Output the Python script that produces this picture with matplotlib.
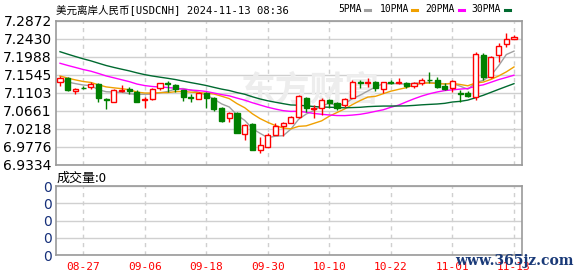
#!/usr/bin/env python3
"""USD/CNH offshore daily candles with 5/10/20/30 day moving averages."""
import matplotlib
matplotlib.use("Agg")
import matplotlib.pyplot as plt
import numpy as np
import pandas as pd
from matplotlib.lines import Line2D

OUT = "out.png"

# Daily OHLC, 2024-08-22 .. 2024-11-13 (60 trading days)
OPEN = [7.1375, 7.1466, 7.1158, 7.1227, 7.1237, 7.1318, 7.0949, 7.0887, 7.1158, 7.1202,
        7.1129, 7.0936, 7.0956, 7.1212, 7.1343, 7.1294, 7.1170, 7.0998, 7.0949, 7.1104,
        7.0966, 7.0719, 7.0473, 7.0596, 7.0098, 7.0325, 6.9691, 6.9772, 7.0061, 7.0290,
        7.0364, 7.0512, 7.0966, 7.0702, 7.0719, 7.0924, 7.0842, 7.0801, 7.0981, 7.1360,
        7.1343, 7.1360, 7.1188, 7.1367, 7.1350, 7.1336, 7.1269, 7.1350, 7.1425, 7.1417,
        7.1269, 7.1227, 7.1096, 7.1104, 7.0990, 7.2034, 7.1498, 7.2034, 7.2305, 7.2428]
HIGH = [7.1516, 7.1479, 7.1232, 7.1262, 7.1360, 7.1350, 7.0973, 7.1195, 7.1286, 7.1252,
        7.1170, 7.1005, 7.1212, 7.1350, 7.1400, 7.1311, 7.1183, 7.1064, 7.1114, 7.1129,
        7.0998, 7.0744, 7.0635, 7.0635, 7.0325, 7.0350, 7.0019, 7.0118, 7.0350, 7.0389,
        7.0529, 7.1047, 7.1005, 7.0801, 7.0966, 7.0949, 7.0867, 7.0981, 7.1417, 7.1417,
        7.1459, 7.1400, 7.1375, 7.1417, 7.1459, 7.1375, 7.1375, 7.1474, 7.1622, 7.1483,
        7.1336, 7.1417, 7.1170, 7.1153, 7.2100, 7.2075, 7.2009, 7.2322, 7.2569, 7.2527]
LOW = [7.1269, 7.1146, 7.1084, 7.1195, 7.1203, 7.0867, 7.0714, 7.0875, 7.1121, 7.1072,
       7.0875, 7.0734, 7.0924, 7.1170, 7.1129, 7.1114, 7.0899, 7.0882, 7.0941, 7.0719,
       7.0653, 7.0389, 7.0389, 7.0103, 6.9937, 6.9691, 6.9610, 6.9757, 7.0061, 7.0036,
       7.0350, 7.0473, 7.0635, 7.0473, 7.0554, 7.0719, 7.0677, 7.0759, 7.0966, 7.1212,
       7.1252, 7.1153, 7.1089, 7.1318, 7.1318, 7.1212, 7.1212, 7.1294, 7.1336, 7.1212,
       7.1170, 7.1129, 7.0882, 7.1005, 7.0924, 7.1417, 7.1459, 7.1868, 7.2238, 7.2421]
CLOSE = [7.1474, 7.1183, 7.1207, 7.1212, 7.1318, 7.0966, 7.0936, 7.1170, 7.1178, 7.1146,
         7.0882, 7.0949, 7.1188, 7.1336, 7.1318, 7.1188, 7.1005, 7.0981, 7.1089, 7.0966,
         7.0702, 7.0406, 7.0596, 7.0103, 7.0307, 6.9691, 6.9814, 7.0061, 7.0290, 7.0364,
         7.0497, 7.1022, 7.0719, 7.0719, 7.0924, 7.0842, 7.0719, 7.0949, 7.1360, 7.1343,
         7.1360, 7.1212, 7.1360, 7.1350, 7.1367, 7.1269, 7.1336, 7.1417, 7.1410, 7.1252,
         7.1203, 7.1385, 7.1079, 7.1030, 7.2051, 7.1498, 7.1992, 7.2263, 7.2421, 7.2470]
# closes before the window, backed out of where the MA lines start
PRE_CLOSE = [7.300, 7.295, 7.290, 7.282, 7.272, 7.265, 7.258, 7.248, 7.240, 7.235,
             7.225, 7.220, 7.222, 7.215, 7.210, 7.215, 7.210, 7.212, 7.208, 7.207,
             7.170, 7.165, 7.160, 7.156, 7.155, 7.145, 7.140, 7.138, 7.1396]

DATES = pd.bdate_range("2024-08-22", periods=len(CLOSE))
TICK_IDX = [3, 11, 19, 27, 35, 43, 51, 59]
Y_TICKS = [7.2872, 7.2430, 7.1988, 7.1545, 7.1103, 7.0661, 7.0218, 6.9776, 6.9334]
MA_WINDOWS = [5, 10, 20, 30]

UP = "#ff0000"
DOWN = "#008000"
MA_COLORS = ["#a0a0a0", "#f0a000", "#ff00ff", "#006a30"]
GRID = "#d0d0d0"
FRAME = "#999999"

W, H = 578, 276
fig = plt.figure(figsize=(W / 100, H / 100), dpi=100)
fig.patch.set_facecolor("white")


def px_axes(x0, y0, x1, y1):
    return fig.add_axes([x0 / W, 1 - y1 / H, (x1 - x0) / W, (y1 - y0) / H])


ax = px_axes(56, 21, 522, 164.5)
axv = px_axes(56, 186, 522, 255.3)

n = len(CLOSE)
idx = np.arange(n)
xlim = (-0.52, 60.04)

# moving averages
all_close = pd.Series(PRE_CLOSE + CLOSE)
for win, col in zip(MA_WINDOWS, MA_COLORS):
    ma = all_close.rolling(win).mean().to_numpy()[-n:]
    ax.plot(idx, ma, color=col, lw=1.0, zorder=3)

# candles
for i in idx:
    o, h, l, c = OPEN[i], HIGH[i], LOW[i], CLOSE[i]
    up = c >= o
    col = UP if up else DOWN
    ax.vlines(i, l, h, color=col, lw=1.0, zorder=4)
    body = max(abs(c - o), 0.0004)
    ax.bar(i, body, bottom=min(o, c), width=0.66,
           facecolor="white" if up else col, edgecolor=col, lw=1.0, zorder=5)

ax.set_xlim(*xlim)
ax.set_ylim(Y_TICKS[-1], Y_TICKS[0])
ax.set_yticks(Y_TICKS)
ax.set_yticklabels([f"{v:.4f}" for v in Y_TICKS], fontsize=10, color="black")
ax.set_xticks(TICK_IDX)
ax.set_xticklabels([])

# volume panel (all zero)
axv.set_xlim(*xlim)
axv.set_ylim(0, 4)
axv.set_yticks([0, 1, 2, 3, 4])
axv.set_yticklabels(["0"] * 5, fontsize=10, color="#16307a")
axv.set_xticks(TICK_IDX)
axv.set_xticklabels([DATES[i].strftime("%m-%d") for i in TICK_IDX],
                    fontsize=8, color="red", family="DejaVu Sans Mono")

for a in (ax, axv):
    a.tick_params(length=0, pad=3)
    a.yaxis.grid(True, color=GRID, lw=1.0, ls="-")
    a.xaxis.grid(True, color=GRID, lw=1.0, ls=(0, (3, 3)))
    a.set_axisbelow(True)
    for s in a.spines.values():
        s.set_color(FRAME)
        s.set_linewidth(1.2)
axv.tick_params(axis="x", pad=5)

# faint site watermark behind the candles
ax.text(0.545, 0.52, "东方财富", transform=ax.transAxes, ha="center", va="center",
        fontsize=25, fontweight="bold", color="#ededed", zorder=1,
        family=["Noto Sans CJK SC", "DejaVu Sans"])

# title and legend
fig.text(56 / W, 1 - 10 / H, "美元离岸人民币[USDCNH] 2024-11-13 08:36",
         ha="left", va="center", fontsize=7.6,
         family=["DejaVu Sans Mono", "Noto Sans CJK SC"])
legend = [("5PMA", 338.7, 365.3), ("10PMA", 379.7, 412.0),
          ("20PMA", 425.3, 459.0), ("30PMA", 471.3, 505.3)]
for (lab, tx, dx), col in zip(legend, MA_COLORS):
    fig.text(tx / W, 1 - 8.5 / H, lab, ha="left", va="center", fontsize=7,
             family="DejaVu Sans Mono")
    fig.add_artist(Line2D([dx / W, (dx + 5) / W], [1 - 10 / H, 1 - 10 / H],
                          color=col, lw=2.2, transform=fig.transFigure))

fig.text(57 / W, 1 - 178 / H, "成交量:0", ha="left", va="center", fontsize=9.4,
         family=["Noto Sans CJK SC", "DejaVu Sans"])

fig.text(455 / W, 1 - 261 / H, "www.365jz.com", ha="left", va="center",
         fontsize=10, fontweight="bold", color="#1a3a78", family="DejaVu Serif",
         zorder=10)

fig.savefig(OUT, dpi=100, facecolor="white")
